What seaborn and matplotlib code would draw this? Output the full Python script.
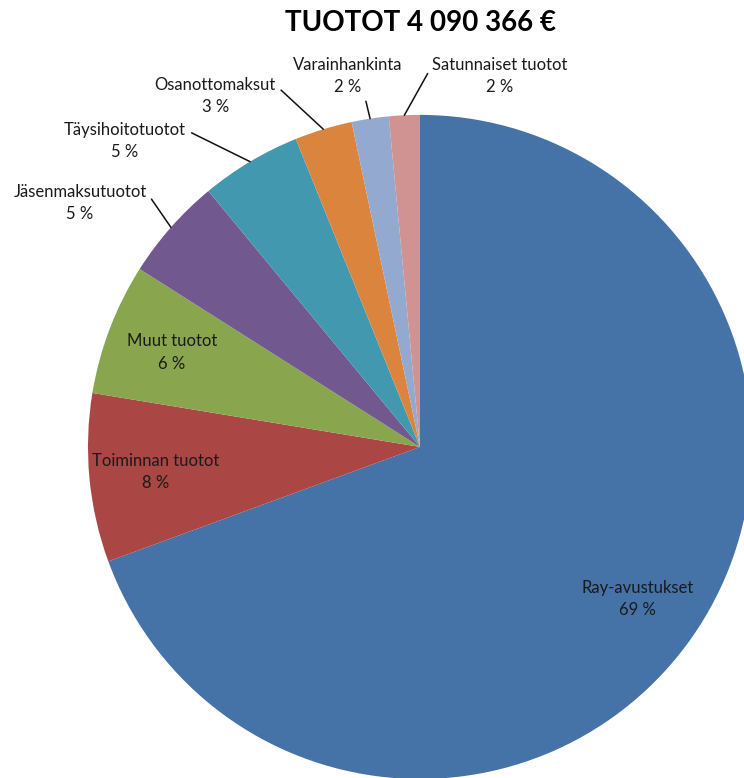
import seaborn as sns
import matplotlib.pyplot as plt
import numpy as np

# Revenue shares (%), clockwise from 12 o'clock
categories = ['Ray-avustukset', 'Toiminnan tuotot', 'Muut tuotot', 'Jäsenmaksutuotot',
              'Täysihoitotuotot', 'Osanottomaksut', 'Varainhankinta', 'Satunnaiset tuotot']
shares = [69.4, 8.2, 6.4, 5.0, 4.9, 2.8, 1.8, 1.5]
pct_labels = ['69 %', '8 %', '6 %', '5 %', '5 %', '3 %', '2 %', '2 %']
title = 'TUOTOT 4 090 366 €'

colors = ['#4572A7', '#AA4643', '#89A54E', '#71588F', '#4198AF',
          '#DB843D', '#93A9CF', '#D19392']

sns.set_theme(style='white')
plt.rcParams['font.family'] = ['Lato', 'DejaVu Sans']

fig = plt.figure(figsize=(7.44, 7.78), dpi=100)
ax = fig.add_axes([0, 0, 1, 1])

wedges, _ = ax.pie(shares, colors=colors, startangle=90, counterclock=False,
                   radius=1, wedgeprops=dict(linewidth=0))

ax.set_xlim(-1.265, 0.976)
ax.set_ylim(-0.997, 1.346)
ax.set_aspect('auto')
ax.axis('off')

# inside labels for the big slices, leader-line labels for the small ones
outside = {
    3: ((-1.024, 0.735), (1.0, 0.78)),
    4: ((-0.889, 0.922), (1.0, 0.78)),
    5: ((-0.617, 1.057), (1.0, 0.78)),
    6: ((-0.217, 1.117), (0.63, 0.25)),
    7: ((0.241, 1.117), (0.0, 0.78)),
}
lab_kw = dict(ha='center', va='center', fontsize=12, color='#1a1a1a',
              linespacing=1.5)
for i, w in enumerate(wedges):
    mid = np.deg2rad((w.theta1 + w.theta2) / 2)
    txt = f'{categories[i]}\n{pct_labels[i]}'
    if i in outside:
        pos, rel = outside[i]
        ax.annotate(txt, xy=(np.cos(mid), np.sin(mid)), xytext=pos, **lab_kw,
                    arrowprops=dict(arrowstyle='-', color='#111111', lw=1.1,
                                    shrinkA=2, shrinkB=0, relpos=rel))
    else:
        r = 0.8
        ax.text(r * np.cos(mid), r * np.sin(mid), txt, **lab_kw)

fig.text(420 / 744, 1 - 23 / 778, title, ha='center', va='center',
         fontsize=20, fontweight='bold', color='black')

plt.savefig('out.png', dpi=100)
